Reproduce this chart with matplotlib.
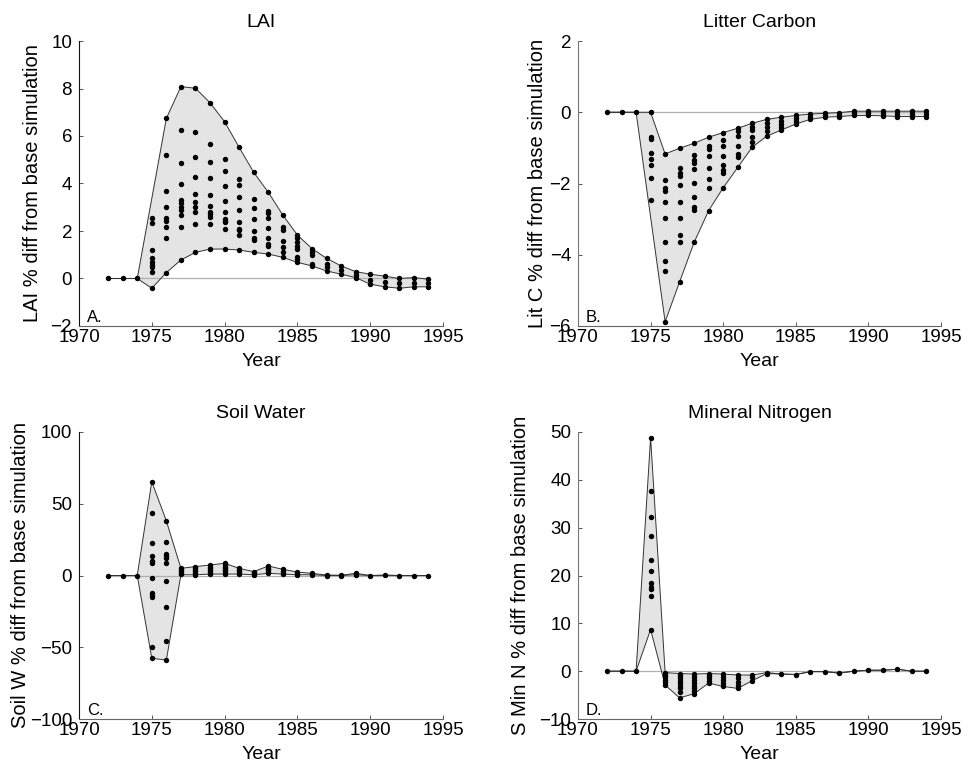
import numpy as np
import matplotlib
matplotlib.use('Agg')
import matplotlib.pyplot as plt

plt.rcParams['font.family'] = ['Liberation Sans', 'DejaVu Sans']

years = list(range(1972, 1995))

# LAI: every run's value per year, plus the envelope drawn round them
lai_runs = [[0], [0], [0],
            [2.53, 2.32, 1.20, 0.85, 0.71, 0.57, 0.50, 0.29, -0.41],
            [6.74, 5.20, 3.70, 3.00, 2.53, 2.44, 2.18, 1.72, 0.25],
            [8.08, 6.25, 4.85, 3.98, 3.30, 3.16, 3.02, 2.88, 2.67, 2.18, 0.78],
            [8.01, 6.15, 5.13, 4.29, 3.56, 3.21, 3.00, 2.80, 2.30, 1.10],
            [7.40, 5.66, 4.92, 4.22, 3.52, 3.05, 2.80, 2.70, 2.60, 2.30, 1.24],
            [6.60, 5.03, 4.53, 3.91, 3.28, 2.79, 2.50, 2.44, 2.36, 2.08, 1.24],
            [5.52, 4.19, 3.94, 3.45, 2.88, 2.39, 2.10, 2.03, 1.83, 1.20],
            [4.47, 3.35, 2.95, 2.49, 2.00, 1.70, 1.60, 1.10],
            [3.63, 2.86, 2.75, 2.53, 2.14, 1.69, 1.44, 1.35, 1.03],
            [2.67, 2.18, 2.04, 1.59, 1.31, 1.13, 0.89],
            [1.83, 1.69, 1.55, 1.38, 1.23, 0.92, 0.81, 0.68],
            [1.26, 1.12, 0.98, 0.62, 0.53],
            [0.85, 0.62, 0.49, 0.32],
            [0.53, 0.35, 0.18],
            [0.29, 0.14, 0.04],
            [0.18, -0.07, -0.24],
            [0.10, -0.14, -0.35],
            [0.00, -0.21, -0.41],
            [0.04, -0.18, -0.35],
            [-0.03, -0.20, -0.35]]
lai_upper = [0, 0, 0, 3.37, 6.74, 8.08, 8.01, 7.40, 6.60, 5.52, 4.47, 3.63,
             2.67, 1.83, 1.26, 0.85, 0.53, 0.29, 0.18, 0.10, 0.00, 0.04, -0.03]
lai_lower = [0, 0, 0, -0.41, 0.25, 0.78, 1.10, 1.24, 1.24, 1.20, 1.10, 1.03,
             0.89, 0.68, 0.53, 0.32, 0.18, 0.04, -0.24, -0.35, -0.41, -0.35, -0.35]

# litter carbon
litc_runs = [[0], [0], [0],
             [0.0, -0.69, -0.76, -1.13, -1.32, -1.48, -1.85, -2.46],
             [-1.17, -1.90, -2.14, -2.20, -2.51, -2.98, -3.63, -4.17, -4.46, -5.88],
             [-1.01, -1.57, -1.71, -1.78, -2.04, -2.51, -2.98, -3.44, -3.63, -4.76],
             [-0.87, -1.20, -1.34, -1.43, -1.60, -1.98, -2.37, -2.67, -2.74, -3.65],
             [-0.70, -0.96, -1.04, -1.23, -1.57, -1.88, -2.12, -2.76],
             [-0.57, -0.78, -0.96, -1.24, -1.48, -1.62, -1.70, -2.12],
             [-0.45, -0.54, -0.67, -0.95, -1.16, -1.27, -1.55],
             [-0.31, -0.40, -0.50, -0.69, -0.83, -0.98],
             [-0.20, -0.31, -0.42, -0.54, -0.67],
             [-0.14, -0.24, -0.33, -0.42, -0.50],
             [-0.09, -0.17, -0.25, -0.33],
             [-0.05, -0.12, -0.20],
             [-0.03, -0.09, -0.14],
             [-0.01, -0.07, -0.12],
             [0.03, -0.03, -0.09],
             [0.03, -0.03, -0.09],
             [0.03, -0.03, -0.10],
             [0.03, -0.05, -0.12],
             [0.03, -0.05, -0.12],
             [0.03, -0.05, -0.12]]
litc_upper = [0, 0, 0, 0, -1.17, -1.01, -0.87, -0.70, -0.57, -0.45, -0.31, -0.20,
              -0.14, -0.09, -0.05, -0.03, -0.01, 0.03, 0.03, 0.03, 0.03, 0.03, 0.03]
litc_lower = [0, 0, 0, -2.94, -5.88, -4.76, -3.65, -2.76, -2.12, -1.55, -0.98, -0.67,
              -0.50, -0.33, -0.20, -0.14, -0.12, -0.09, -0.09, -0.10, -0.12, -0.12, -0.12]

# soil water
soilw_runs = [[0], [0], [0],
              [65.4, 43.8, 22.9, 13.8, 9.9, 8.9, -1.5, -12.4, -13.4, -14.8, -50.1, -57.7],
              [38.0, 23.6, 15.0, 13.8, 12.4, 8.5, -3.8, -21.7, -45.4, -58.9],
              [5.0, 4.0, 3.0, 2.0, 1.0],
              [6.2, 5.0, 4.0, 3.0, 2.0, 0.5],
              [7.3, 6.0, 5.0, 4.0, 3.0, 2.0, 1.0],
              [8.5, 7.0, 6.0, 5.0, 4.0, 3.0, 2.0, 1.0],
              [5.0, 4.0, 3.0, 2.0, 1.0],
              [2.7, 1.5, 0.5],
              [6.6, 5.5, 4.5, 3.5, 2.5, 1.5],
              [4.3, 3.0, 2.0, 1.0],
              [2.4, 1.2, 0.5],
              [1.5, 0.5],
              [0.3, 0.0],
              [0.2, 0.0],
              [1.5, 0.5],
              [0.0], [0.2], [0.0], [0.0], [0.0]]
soilw_upper = [0, 0, 0, 65.4, 38.0, 5.0, 6.2, 7.3, 8.5, 5.0, 2.7, 6.6,
               4.3, 2.4, 1.5, 0.3, 0.2, 1.5, 0.0, 0.2, 0.0, 0.0, 0.0]
soilw_lower = [0, 0, 0, -57.7, -58.9, 0.5, 0.5, 1.0, 1.0, 1.0, 0.5, 1.5,
               1.0, 0.5, 0.5, 0.0, 0.0, 0.5, 0.0, 0.2, 0.0, 0.0, 0.0]

# soil mineral nitrogen
minn_runs = [[0], [0], [0],
             [48.8, 37.7, 32.3, 28.2, 23.3, 21.0, 18.4, 17.7, 17.1, 15.8, 8.7],
             [-0.3, -0.8, -1.3, -1.8, -2.3, -2.9],
             [-0.5, -1.0, -1.5, -2.0, -2.5, -3.0, -3.5, -4.3, -5.6],
             [-0.6, -1.2, -1.8, -2.4, -3.0, -3.6, -4.1, -4.7],
             [-0.5, -1.0, -1.5, -2.0, -2.5],
             [-0.6, -1.2, -1.8, -2.4, -3.2],
             [-0.8, -1.5, -2.2, -2.9, -3.6],
             [-0.8, -1.3, -2.0],
             [-0.3, -0.5],
             [-0.6], [-0.7], [-0.1], [-0.1], [-0.4],
             [0.0], [0.2], [0.2], [0.4], [0.0], [0.0]]
minn_upper = [0, 0, 0, 48.8, -0.3, -0.5, -0.6, -0.5, -0.6, -0.8, -0.8, -0.3,
              -0.6, -0.7, -0.1, -0.1, -0.4, 0.0, 0.2, 0.2, 0.4, 0.0, 0.0]
minn_lower = [0, 0, 0, 8.7, -2.9, -5.6, -4.7, -2.5, -3.2, -3.6, -2.0, -0.5,
              -0.6, -0.7, -0.1, -0.1, -0.4, 0.0, 0.2, 0.2, 0.4, 0.0, 0.0]

panels = [
    ('LAI', 'LAI % diff from base simulation', 'A.', lai_runs, lai_upper, lai_lower,
     (-2, 10), np.arange(-2, 11, 2)),
    ('Litter Carbon', 'Lit C % diff from base simulation', 'B.', litc_runs, litc_upper, litc_lower,
     (-6, 2), np.arange(-6, 3, 2)),
    ('Soil Water', 'Soil W % diff from base simulation', 'C.', soilw_runs, soilw_upper, soilw_lower,
     (-100, 100), np.arange(-100, 101, 50)),
    ('Mineral Nitrogen', 'S Min N % diff from base simulation', 'D.', minn_runs, minn_upper, minn_lower,
     (-10, 50), np.arange(-10, 51, 10)),
]

# axes boxes in pixels: left, top, right, bottom
boxes = [(79, 41, 443, 326), (578, 41, 941, 326),
         (79, 432, 443, 719), (578, 432, 941, 719)]
left_spine = ['#111111', '#777777', '#111111', '#777777']
label_x = [-0.102, -0.085, -0.135, -0.132]

W, H = 968, 772
fig = plt.figure(figsize=(W / 100, H / 100), dpi=100)

for i, (title, ylab, letter, runs, upper, lower, ylim, yticks) in enumerate(panels):
    l, t, r, b = boxes[i]
    ax = fig.add_axes([l / W, 1 - b / H, (r - l) / W, (b - t) / H])

    ax.fill_between(years, lower, upper, facecolor='#e4e4e4', edgecolor='none', zorder=1)
    ax.plot([years[0], years[-1]], [0, 0], color='#b0b0b0', lw=0.9, zorder=2)
    ax.plot(years, upper, color='#333333', lw=0.7, zorder=3)
    ax.plot(years, lower, color='#333333', lw=0.7, zorder=3)
    for yr, vals in zip(years, runs):
        ax.plot([yr] * len(vals), vals, 'o', color='k', ms=3.9, mew=0, zorder=4)

    ax.set_xlim(1970, 1995)
    ax.set_ylim(*ylim)
    ax.set_xticks(range(1970, 1996, 5))
    ax.set_yticks(yticks)
    ax.spines['top'].set_visible(False)
    ax.spines['right'].set_visible(False)
    ax.spines['left'].set_color(left_spine[i])
    ax.spines['bottom'].set_color('#666666')
    ax.tick_params(direction='in', length=3, width=0.7, labelsize=13.5, colors='#555555',
                   labelcolor='k')
    ax.tick_params(axis='y', pad=5)
    ax.tick_params(axis='x', pad=2)

    ax.set_title(title, fontsize=14, pad=10)
    ax.set_xlabel('Year', fontsize=14, labelpad=5)
    ax.set_ylabel(ylab, fontsize=14.5)
    ax.yaxis.set_label_coords(label_x[i], 0.5)
    ax.text(0.022, 0.014, letter, transform=ax.transAxes, fontsize=12, va='baseline')

fig.savefig('out.png', dpi=100)
